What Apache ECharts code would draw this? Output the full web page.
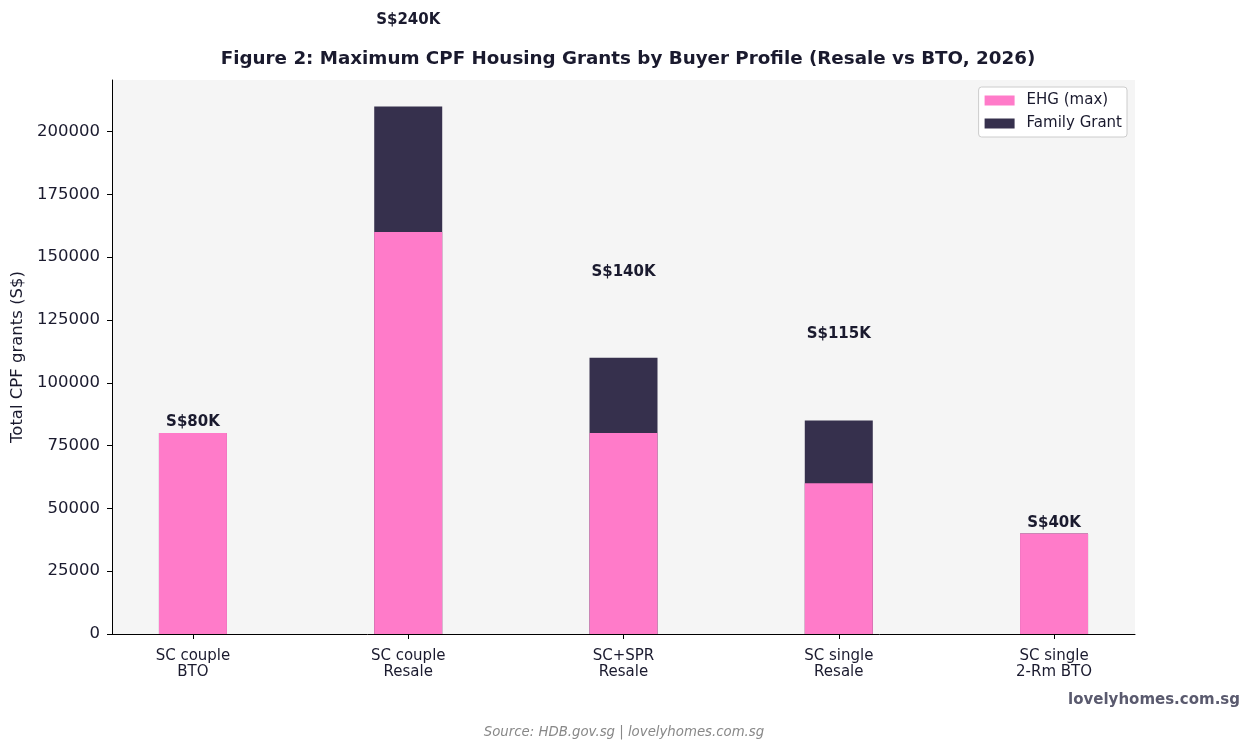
<!DOCTYPE html>
<html>
<head>
<meta charset="utf-8">
<script src="https://cdn.jsdelivr.net/npm/echarts@6/dist/echarts.min.js"></script>
<style>
  html, body { margin: 0; padding: 0; background: #fff; }
  #chartBox { width: 1252px; height: 749px; }
</style>
</head>
<body>
<div id="chartBox"></div>
<script>
// categories and values
const profiles = ['SC couple\nBTO', 'SC couple\nResale', 'SC+SPR\nResale', 'SC single\nResale', 'SC single\n2-Rm BTO']
const ehgMax = [80000, 160000, 80000, 60000, 40000]
const familyGrant = [0, 50000, 30000, 25000, 0]
// headline totals printed over each column
const totalLabels = ['S$80K', 'S$240K', 'S$140K', 'S$115K', 'S$40K']
const totalValues = [80000, 240000, 140000, 115000, 40000]
const yTicks = [0, 25000, 50000, 75000, 100000, 125000, 150000, 175000, 200000]

const font = 'DejaVu Sans'
const ink = '#1a1a2e'
const xIdx = profiles.map((p, i) => i)

let myChart = echarts.init(document.getElementById('chartBox'))
myChart.setOption({
  animation: false,
  textStyle: { fontFamily: font },
  title: [
    {
      text: 'Figure 2: Maximum CPF Housing Grants by Buyer Profile (Resale vs BTO, 2026)',
      left: 623,
      top: 45,
      textAlign: 'center',
      textStyle: { fontFamily: font, fontSize: 18.3, fontWeight: 'bold', color: ink }
    },
    {
      text: 'lovelyhomes.com.sg',
      right: 7,
      top: 688,
      textStyle: { fontFamily: font, fontSize: 15, fontWeight: 'bold', color: '#5a5a6e' }
    },
    {
      text: 'Source: HDB.gov.sg | lovelyhomes.com.sg',
      left: 619,
      top: 721,
      textAlign: 'center',
      textStyle: { fontFamily: font, fontSize: 13.3, fontStyle: 'italic', fontWeight: 'normal', color: '#888' }
    }
  ],
  legend: {
    orient: 'vertical',
    right: 125,
    top: 87,
    data: ['EHG (max)', 'Family Grant'],
    backgroundColor: '#fff',
    borderColor: '#cccccc',
    borderWidth: 1,
    borderRadius: 3,
    padding: [6, 5, 6, 6],
    itemWidth: 30,
    itemHeight: 10,
    itemGap: 8,
    icon: 'rect',
    textStyle: { fontFamily: font, fontSize: 15, color: ink, padding: [0, 0, 0, 7] }
  },
  grid: {
    left: 112,
    right: 117,
    top: 80,
    bottom: 115,
    show: true,
    backgroundColor: '#f5f5f5',
    borderWidth: 0
  },
  xAxis: {
    type: 'value',
    min: -0.376,
    max: 4.376,
    splitLine: { show: false },
    axisLine: { show: true, onZero: false, lineStyle: { color: '#000', width: 1 } },
    axisTick: { show: true, customValues: xIdx, length: 5, lineStyle: { color: '#000' } },
    axisLabel: {
      customValues: xIdx,
      formatter: v => profiles[Math.round(v)],
      fontFamily: font,
      fontSize: 15,
      color: ink,
      lineHeight: 16,
      margin: 14
    }
  },
  yAxis: {
    type: 'value',
    min: 0,
    max: 220500,
    name: 'Total CPF grants (S$)',
    nameLocation: 'middle',
    nameGap: 82,
    nameTextStyle: { fontFamily: font, fontSize: 16.5, color: ink },
    splitLine: { show: false },
    axisLine: { show: true, onZero: false, lineStyle: { color: '#000', width: 1 } },
    axisTick: { show: true, customValues: yTicks, length: 5, lineStyle: { color: '#000' } },
    axisLabel: {
      customValues: yTicks,
      formatter: v => String(v),
      fontFamily: font,
      fontSize: 16.5,
      color: ink,
      margin: 12
    }
  },
  series: [
    {
      // drawn first at full column height, EHG part painted over it
      name: 'Family Grant',
      type: 'bar',
      barWidth: 68,
      barGap: '-100%',
      itemStyle: { color: '#36304d' },
      data: familyGrant.map((v, i) => [i, ehgMax[i] + v])
    },
    {
      name: 'EHG (max)',
      type: 'bar',
      barWidth: 68,
      barGap: '-100%',
      itemStyle: { color: '#ff7bc9' },
      data: ehgMax.map((v, i) => [i, v])
    },
    {
      name: 'totals',
      type: 'scatter',
      symbolSize: 0,
      clip: false,
      silent: true,
      itemStyle: { opacity: 1 },
      label: {
        show: true,
        position: 'top',
        distance: 3,
        formatter: p => totalLabels[p.dataIndex],
        fontFamily: font,
        fontSize: 15,
        fontWeight: 'bold',
        color: ink,
        opacity: 1
      },
      data: totalValues.map((v, i) => [i, v])
    }
  ]
})
</script>
</body>
</html>
